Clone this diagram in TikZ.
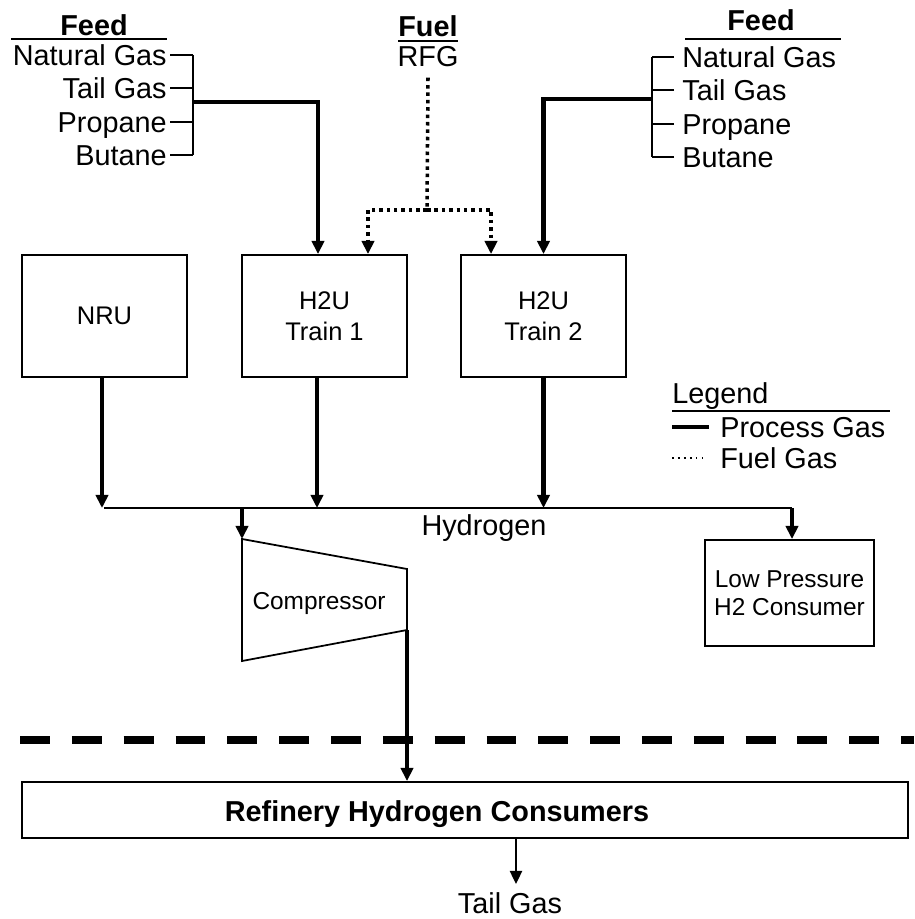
\documentclass[tikz,border=0pt]{standalone}
\usepackage{fontspec}
\setmainfont{Liberation Sans}
\usetikzlibrary{arrows.meta}
\begin{document}
\begin{tikzpicture}[x=0.02cm, y=-0.02cm, text centered,
  bigtxt/.style={font=\fontsize{16.4}{19}\selectfont, inner sep=0pt, text height=11.8pt, text depth=0pt},
  smalltxt/.style={font=\fontsize{13.9}{16}\selectfont, inner sep=0pt, text height=10pt, text depth=0pt},
  unitbox/.style={draw, line width=1.1pt, minimum width=3.3cm, minimum height=2.44cm, align=center, font=\fontsize{14.5}{17.6}\selectfont},
  proc/.style={line width=2.3pt},
  fuelgas/.style={line width=2pt, dash pattern=on 2pt off 2.2pt},
  thinflow/.style={line width=1.2pt},
  brk/.style={line width=0.9pt},
  flow/.style={-{Triangle[length=7.5pt,width=7pt]}}]
\useasboundingbox (0,0) rectangle (914,919);
% units
\node[unitbox] (nru) at (104.5,316) {NRU};
\node[unitbox] (htrain1) at (324.5,316) {H2U\\Train 1};
\node[unitbox] (htrain2) at (543.5,316) {H2U\\Train 2};
\node[unitbox, font=\fontsize{13.9}{15.9}\selectfont, minimum width=3.38cm, minimum height=2.12cm] (lpcons) at (789.5,593) {Low Pressure\\H2 Consumer};
\node[draw, line width=1.1pt, minimum width=17.72cm, minimum height=1.12cm] (refinery) at (465,810) {};
\node[bigtxt] (reftext) at (437,811) {\bfseries Refinery Hydrogen Consumers};
% left feed
\node[bigtxt] (feedl) at (94,25) {\bfseries Feed};
\draw[brk] (11,39) -- (167,39);
\foreach \n/\txt/\y in {ngl/Natural Gas/55, tgl/Tail Gas/88, prl/Propane/122, bul/Butane/155}
  {\node[bigtxt, anchor=east] (\n) at (167,\y) {\txt};
   \draw[brk] (\n.east) ++(3,0) -- (193,\y);}
\draw[brk] (193,55) -- (193,155);
\coordinate (jl) at (193,102);
\draw[proc, flow] (jl) -| ([xshift=-0.13cm]htrain1.north);
% right feed
\node[bigtxt] (feedr) at (761,20.5) {\bfseries Feed};
\draw[brk] (685,39) -- (841,39);
\foreach \n/\txt/\y in {ngr/Natural Gas/57, tgr/Tail Gas/90, prr/Propane/124, bur/Butane/157}
  {\node[bigtxt, anchor=west] (\n) at (682,\y) {\txt};
   \draw[brk] (\n.west) ++(-8,0) -- (652,\y);}
\draw[brk] (652,57) -- (652,157);
\coordinate (jr) at (652,99);
\draw[proc, flow] (jr) -| (htrain2.north);
% fuel
\node[bigtxt] (fuel) at (428,26) {\bfseries Fuel};
\draw[line width=1.2pt] ([yshift=-0.08cm]fuel.south west) -- ([yshift=-0.08cm]fuel.south east);
\node[bigtxt] (rfg) at (428,56) {RFG};
\coordinate (fj) at (427,210);
\draw[fuelgas] ([yshift=-0.22cm]rfg.south) -- (fj);
\draw[fuelgas, flow] (fj) -| ([xshift=0.87cm]htrain1.north);
\draw[fuelgas, flow] (fj) -| ([xshift=-1.05cm]htrain2.north);
% hydrogen header
\coordinate (hl) at (104,508);
\coordinate (hr) at (792,508);
\draw[thinflow] (hl) -- (hr);
\node[bigtxt] (htext) at (484,525) {Hydrogen};
\draw[proc, flow] ([xshift=-0.05cm]nru.south) -- ([xshift=-0.05cm]nru.south |- hl);
\draw[proc, flow] ([xshift=-0.15cm]htrain1.south) -- ([xshift=-0.15cm]htrain1.south |- hl);
\draw[proc, flow] (htrain2.south) -- (htrain2.south |- hl);
\draw[proc, flow] (hr) -- (lpcons.north -| hr);
% compressor
\coordinate (cin) at (242,539);
\coordinate (cout) at (407,630);
\draw[line width=1pt] (cin) -- (407,569) -- (cout) -- (242,661) -- cycle;
\node[smalltxt] (comp) at (319,601) {Compressor};
\draw[proc, flow] (hl -| cin) -- (cin);
\draw[proc, flow] (cout) -- (cout |- refinery.north);
% boundary
\draw[line width=4.5pt, dash pattern=on 17pt off 12.5pt, dash phase=18.1pt] (0,740) -- (914,740);
% tail gas
\node[bigtxt] (tailgas) at (510,903) {Tail Gas};
\draw[thinflow, flow] ([xshift=1.02cm]refinery.south) -- +(0,45);
% legend
\node[bigtxt, anchor=west] (legend) at (672,393) {Legend};
\draw[brk] (672,411) -- (890,411);
\draw[proc] (672,427) -- (709,427);
\node[bigtxt, anchor=west] (lproc) at (720,427) {Process Gas};
\draw[brk, dash pattern=on 0.9pt off 2.5pt] (672,458) -- (702,458);
\node[bigtxt, anchor=west] (lfuel) at (720,458) {Fuel Gas};
\end{tikzpicture}
\end{document}
